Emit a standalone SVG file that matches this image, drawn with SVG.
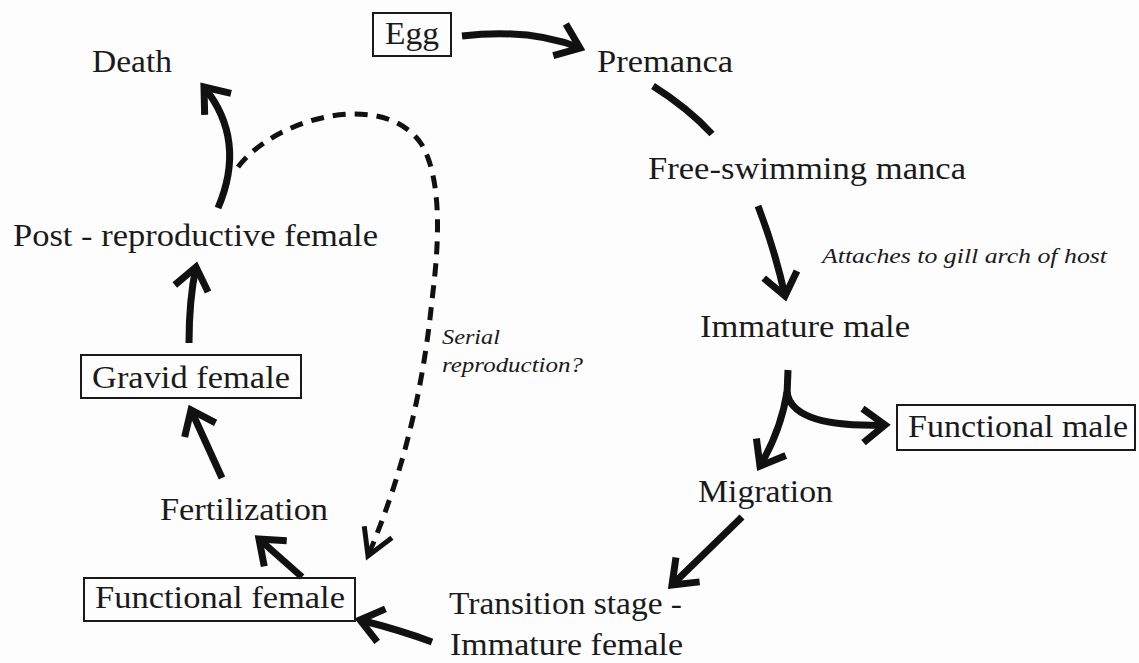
<svg xmlns="http://www.w3.org/2000/svg" width="1139" height="663" viewBox="0 0 1139 663">
<style>
text{font-family:"Liberation Serif",Tinos,"Times New Roman",Times,serif;fill:#1a1a1a}
.t{font-size:32px}
.i{font-size:22px;font-style:italic}
.box{fill:none;stroke:#1a1a1a;stroke-width:2}
.c{fill:none;stroke:#111;stroke-width:7;stroke-linecap:butt}
.d{fill:none;stroke:#111;stroke-width:5;stroke-dasharray:13 9}
</style>
<defs>
<marker id="ah" markerUnits="userSpaceOnUse" viewBox="-30 -22 36 44" refX="0" refY="0" markerWidth="36" markerHeight="44" orient="auto">
<path d="M -22 -17 L 0 0 L -22 17" fill="none" stroke="#111" stroke-width="7"/>
</marker>
<marker id="ahd" markerUnits="userSpaceOnUse" viewBox="-30 -22 36 44" refX="0" refY="0" markerWidth="36" markerHeight="44" orient="auto">
<path d="M -26 -15 L 0 0 L -26 15" fill="none" stroke="#111" stroke-width="5"/>
</marker>
</defs>
<rect width="1139" height="663" fill="#fdfdfd"/>
<g id="connectors">
<path class="c" d="M 462 36 Q 530 28 580 48" marker-end="url(#ah)"/>
<path class="c" d="M 653 86 Q 688 108 712 134"/>
<path class="c" d="M 758 206 Q 775 250 785 296" marker-end="url(#ah)"/>
<path class="c" d="M 788 370 L 787 395"/>
<path class="c" d="M 787 392 Q 781 430 760 466" marker-end="url(#ah)"/>
<path class="c" d="M 787 392 C 790 415 820 427 885 425" marker-end="url(#ah)"/>
<path class="c" d="M 742 517 L 672 585" marker-end="url(#ah)"/>
<path class="c" d="M 432 642 Q 400 630 360 620" marker-end="url(#ah)"/>
<path class="c" d="M 302 577 L 259 539" marker-end="url(#ah)"/>
<path class="c" d="M 222 478 L 191 410" marker-end="url(#ah)"/>
<path class="c" d="M 189 343 Q 189 300 196 267" marker-end="url(#ah)"/>
<path class="c" d="M 218 208 Q 247 140 204 87" marker-end="url(#ah)"/>
<path class="d" d="M 238 167 C 275 118 385 88 422 145 C 445 185 437 260 432 300 C 422 400 400 480 368 556" marker-end="url(#ahd)"/>
</g>
<g id="death"><text class="t" x="92" y="72" textLength="80" lengthAdjust="spacingAndGlyphs">Death</text></g>
<g id="egg"><rect class="box" x="373" y="13" width="78" height="43"/><text class="t" x="385" y="44" textLength="54" lengthAdjust="spacingAndGlyphs">Egg</text></g>
<g id="premanca"><text class="t" x="597" y="72" textLength="136" lengthAdjust="spacingAndGlyphs">Premanca</text></g>
<g id="free-swimming-manca"><text class="t" x="648" y="179" textLength="318" lengthAdjust="spacingAndGlyphs">Free-swimming manca</text></g>
<g id="attaches-label"><text class="i" x="822" y="263" textLength="285" lengthAdjust="spacingAndGlyphs">Attaches to gill arch of host</text></g>
<g id="immature-male"><text class="t" x="700" y="337" textLength="210" lengthAdjust="spacingAndGlyphs">Immature male</text></g>
<g id="functional-male"><rect class="box" x="897" y="405" width="238" height="45"/><text class="t" x="908" y="437" textLength="220" lengthAdjust="spacingAndGlyphs">Functional male</text></g>
<g id="migration"><text class="t" x="698" y="502" textLength="135" lengthAdjust="spacingAndGlyphs">Migration</text></g>
<g id="transition"><text class="t" x="449" y="614" textLength="233" lengthAdjust="spacingAndGlyphs">Transition stage -</text><text class="t" x="450" y="655" textLength="233" lengthAdjust="spacingAndGlyphs">Immature female</text></g>
<g id="functional-female"><rect class="box" x="84" y="578" width="271" height="43"/><text class="t" x="95" y="608" textLength="250" lengthAdjust="spacingAndGlyphs">Functional female</text></g>
<g id="fertilization"><text class="t" x="160" y="520" textLength="168" lengthAdjust="spacingAndGlyphs">Fertilization</text></g>
<g id="gravid-female"><rect class="box" x="81" y="355" width="220" height="43"/><text class="t" x="92" y="388" textLength="198" lengthAdjust="spacingAndGlyphs">Gravid female</text></g>
<g id="post-reproductive-female"><text class="t" x="13" y="246" textLength="365" lengthAdjust="spacingAndGlyphs">Post - reproductive female</text></g>
<g id="serial-label"><text class="i" x="442" y="344" textLength="58" lengthAdjust="spacingAndGlyphs">Serial</text><text class="i" x="442" y="372" textLength="141" lengthAdjust="spacingAndGlyphs">reproduction?</text></g>
</svg>
